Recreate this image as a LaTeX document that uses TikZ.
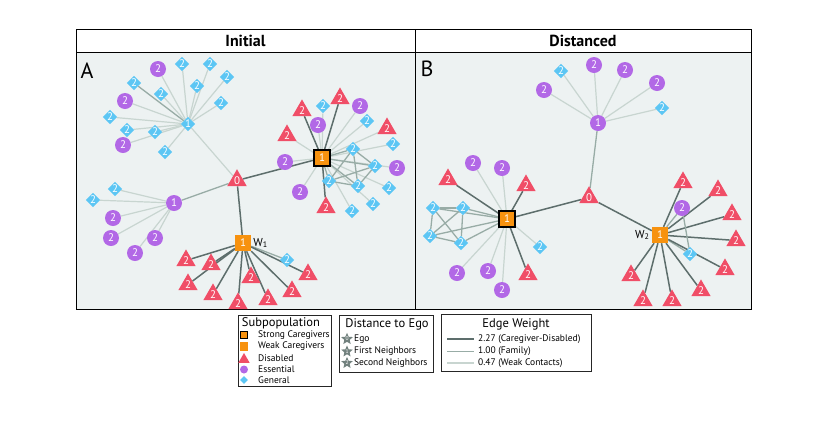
\documentclass[tikz,border=0pt]{standalone}
\usepackage{fontspec}
\setmainfont{PT Sans}
\usetikzlibrary{shapes.geometric,positioning}
\pgfdeclarelayer{bg}
\pgfdeclarelayer{edges}
\pgfsetlayers{bg,edges,main}
\definecolor{disred}{HTML}{F04E67}
\definecolor{esspurple}{HTML}{B268E6}
\definecolor{genblue}{HTML}{5CC6F4}
\definecolor{cgorange}{HTML}{F7920F}
\definecolor{panelbg}{HTML}{EDF2F2}
\definecolor{edark}{HTML}{5D6E6C}
\definecolor{emid}{HTML}{98ACA6}
\definecolor{elight}{HTML}{C8D5D0}
\definecolor{stargray}{HTML}{72817E}
\tikzset{
  num/.style={text=white, font=\fontsize{11}{11}\selectfont, inner sep=0pt},
  dis/.style={num, regular polygon, regular polygon sides=3, fill=disred, minimum size=22pt, yshift=-2.5pt},
  ess/.style={num, circle, fill=esspurple, minimum size=16pt},
  gen/.style={num, diamond, fill=genblue, minimum size=14.5pt},
  cgweak/.style={num, rectangle, fill=cgorange, minimum size=16pt},
  cgstrong/.style={cgweak, draw=black, line width=1.2pt},
  ecare/.style={draw=edark, line width=1.5pt},
  efam/.style={draw=emid, line width=1.3pt},
  econt/.style={draw=elight, line width=1.2pt},
  titlecell/.style={draw=black, line width=1pt, fill=white, minimum width=339pt, minimum height=23pt, font=\fontsize{16}{16}\selectfont\bfseries},
  letter/.style={font=\fontsize{22}{22}\selectfont},
  wlabel/.style={font=\fontsize{11.5}{12}\selectfont, inner sep=0pt},
  legbox/.style={draw=black!85, line width=0.8pt},
  legtitle/.style={font=\fontsize{12.5}{13}\selectfont, inner sep=0pt},
  legtext/.style={font=\fontsize{9.5}{10}\selectfont, inner sep=0pt, anchor=west},
  distar/.style={star, star points=5, star point ratio=2.2, fill=stargray, minimum size=10.5pt, inner sep=0pt, text=white, font=\fontsize{5.5}{5.5}\selectfont},
}
\begin{document}
\begin{tikzpicture}[x=1pt,y=-1pt]
\useasboundingbox (0,0) rectangle (831,424);
% panels and titles
\begin{pgfonlayer}{bg}
\fill[panelbg] (76,52) rectangle (751,309);
\end{pgfonlayer}
\draw[line width=1pt] (76,29) rectangle (751,309);
\draw[line width=1pt] (415,29) -- (415,309);
\node[titlecell] (tA) at (245.5,40.5) {Initial};
\node[titlecell, minimum width=336pt] (tB) at (583,40.5) {Distanced};
\node[letter] (labA) at (87,71) {A};
\node[letter] (labB) at (427,69) {B};

% ---- A: Initial ----
\node[dis] (a0) at (237,178) {0};
\node[gen] (aG) at (188,124) {1};
\node[ess] (aE) at (174,203) {1};
\node[cgstrong] (aS) at (322,158) {1};
\node[cgweak] (aW) at (243,243) {1};
\node[wlabel, right=2pt of aW] (aWl) {W\textsubscript{1}};
\begin{pgfonlayer}{edges}
\draw[econt] (a0) -- (aG);
\draw[efam] (a0) -- (aE);
\draw[ecare] (a0) -- (aS);
\draw[ecare] (a0) -- (aW);
\end{pgfonlayer}
\foreach \n/\x/\y/\s/\w in {g1/158/69/ess/econt, g2/182/64/gen/econt, g3/210/64/gen/econt,
  g4/134/83/gen/efam, g5/227/77/gen/econt, g6/197/86/gen/econt, g7/161/94/gen/econt,
  g8/125/101/ess/econt, g9/221/103/gen/econt, g10/110/117/gen/econt, g11/127/130/gen/econt,
  g12/155/132/gen/econt, g13/123/145/ess/econt, g14/165/152/gen/econt} {
  \node[\s] (\n) at (\x,\y) {2};
  \begin{pgfonlayer}{edges}\draw[\w] (aG) -- (\n);\end{pgfonlayer}
}
\foreach \n/\x/\y/\s in {e1/115/189/gen, e2/93/200/gen, e3/113/218/ess,
  e4/111/238/ess, e5/155/238/ess, e6/135/253/ess} {
  \node[\s] (\n) at (\x,\y) {2};
  \begin{pgfonlayer}{edges}\draw[econt] (aE) -- (\n);\end{pgfonlayer}
}
\foreach \n/\x/\y/\s/\w in {s1/302/108/dis/ecare, s2/323/106/gen/econt, s3/340/96/dis/ecare,
  s4/360/106/ess/econt, s5/318/125/ess/econt, s6/287/133/dis/econt, s7/367/121/gen/econt,
  s8/387/126/dis/econt, s9/393/144/gen/econt, s10/285/162/ess/econt, s11/397/168/ess/econt,
  s12/300/192/ess/econt, s13/389/188/gen/econt, s14/326/205/dis/ecare,
  s15/373/204/gen/econt, s16/352/211/gen/econt,
  k1/353/149/gen/efam, k2/375/166/gen/efam, k3/329/181/gen/efam, k4/358/186/gen/efam} {
  \node[\s] (\n) at (\x,\y) {2};
  \begin{pgfonlayer}{edges}\draw[\w] (aS) -- (\n);\end{pgfonlayer}
}
\begin{pgfonlayer}{edges}
\foreach \p/\q in {k1/k2, k1/k3, k1/k4, k2/k3, k2/k4, k3/k4}
  \draw[efam] (\p) -- (\q);
\end{pgfonlayer}
\foreach \n/\x/\y/\s/\w in {w1/186/258/dis/ecare, w2/211/262/dis/ecare, w3/287/260/gen/efam,
  w4/308/272/dis/ecare, w5/251/275/dis/ecare, w6/188/282/dis/ecare, w7/213/292/dis/ecare,
  w8/292/289/dis/ecare, w9/238/301/dis/ecare, w10/268/297/dis/ecare} {
  \node[\s] (\n) at (\x,\y) {2};
  \begin{pgfonlayer}{edges}\draw[\w] (aW) -- (\n);\end{pgfonlayer}
}

% ---- B: Distanced ----
\node[dis] (b0) at (589,195) {0};
\node[ess] (bE) at (598,123) {1};
\node[cgstrong] (bS) at (507,219) {1};
\node[cgweak] (bW) at (660,235) {1};
\node[wlabel, left=2pt of bW] (bWl) {W\textsubscript{2}};
\begin{pgfonlayer}{edges}
\draw[efam] (b0) -- (bE);
\draw[ecare] (b0) -- (bS);
\draw[ecare] (b0) -- (bW);
\end{pgfonlayer}
\foreach \n/\x/\y/\s in {f1/561/71/gen, f2/594/65/ess, f3/625/70/ess,
  f4/657/83/ess, f5/544/90/ess, f6/662/108/gen} {
  \node[\s] (\n) at (\x,\y) {2};
  \begin{pgfonlayer}{edges}\draw[econt] (bE) -- (\n);\end{pgfonlayer}
}
\foreach \n/\x/\y/\s/\w in {t1/448/177/dis/ecare, t2/473/163/ess/econt, t3/502/168/ess/econt,
  t4/526/183/dis/ecare, t5/540/247/gen/econt, t6/528/272/dis/ecare, t7/457/273/ess/econt,
  t8/488/271/ess/econt, t9/502/290/ess/econt,
  m1/433/208/gen/efam, m2/463/208/gen/efam, m3/430/236/gen/efam, m4/461/243/gen/efam} {
  \node[\s] (\n) at (\x,\y) {2};
  \begin{pgfonlayer}{edges}\draw[\w] (bS) -- (\n);\end{pgfonlayer}
}
\begin{pgfonlayer}{edges}
\foreach \p/\q in {m1/m2, m1/m3, m1/m4, m2/m3, m2/m4, m3/m4}
  \draw[efam] (\p) -- (\q);
\end{pgfonlayer}
\foreach \n/\x/\y/\s/\w in {u1/683/180/dis/ecare, u2/682/208/ess/efam, u3/718/188/dis/ecare,
  u4/732/212/dis/ecare, u5/736/238/dis/ecare, u6/690/254/gen/efam, u7/725/267/dis/ecare,
  u8/631/273/dis/ecare, u9/701/288/dis/ecare, u10/643/298/dis/ecare, u11/672/298/dis/ecare} {
  \node[\s] (\n) at (\x,\y) {2};
  \begin{pgfonlayer}{edges}\draw[\w] (bW) -- (\n);\end{pgfonlayer}
}
\begin{pgfonlayer}{edges}
\draw[efam] (u2) -- (u6);
\end{pgfonlayer}

% ---- legends ----
\draw[legbox] (238,315) rectangle (331,386);
\node[legtitle] (lgSub) at (281,323.5) {Subpopulation};
\node[cgstrong, minimum size=7.5pt, line width=1pt] (lgS) at (244,335) {};
\node[cgweak, minimum size=8.5pt] (lgW) at (244,346.5) {};
\node[dis, minimum size=13pt, yshift=1pt] (lgD) at (244,358) {};
\node[ess, minimum size=8pt] (lgE) at (244,369.5) {};
\node[gen, minimum size=8pt] (lgG) at (244,380) {};
\node[legtext] at (258,335) {Strong Caregivers};
\node[legtext] at (258,346.5) {Weak Caregivers};
\node[legtext] at (258,358) {Disabled};
\node[legtext] at (258,369.5) {Essential};
\node[legtext] at (258,380) {General};

\draw[legbox] (339,315) rectangle (433,372);
\node[legtitle] (lgDist) at (387,324.5) {Distance to Ego};
\node[distar] (st0) at (347,339) {0};
\node[distar] (st1) at (347,351.5) {1};
\node[distar] (st2) at (347,363) {2};
\node[legtext] at (354,339) {Ego};
\node[legtext] at (354,351.5) {First Neighbors};
\node[legtext] at (354,363) {Second Neighbors};

\draw[legbox] (441,314) rectangle (591,371);
\node[legtitle] (lgEdge) at (516,324.5) {Edge Weight};
\coordinate (ew1a) at (447,339); \coordinate (ew1b) at (474,339);
\coordinate (ew2a) at (447,351.5); \coordinate (ew2b) at (474,351.5);
\coordinate (ew3a) at (447,363); \coordinate (ew3b) at (474,363);
\draw[ecare] (ew1a) -- (ew1b);
\draw[efam] (ew2a) -- (ew2b);
\draw[econt] (ew3a) -- (ew3b);
\node[legtext] at (478,339) {2.27 (Caregiver-Disabled)};
\node[legtext] at (478,351.5) {1.00 (Family)};
\node[legtext] at (478,363) {0.47 (Weak Contacts)};
\end{tikzpicture}
\end{document}
